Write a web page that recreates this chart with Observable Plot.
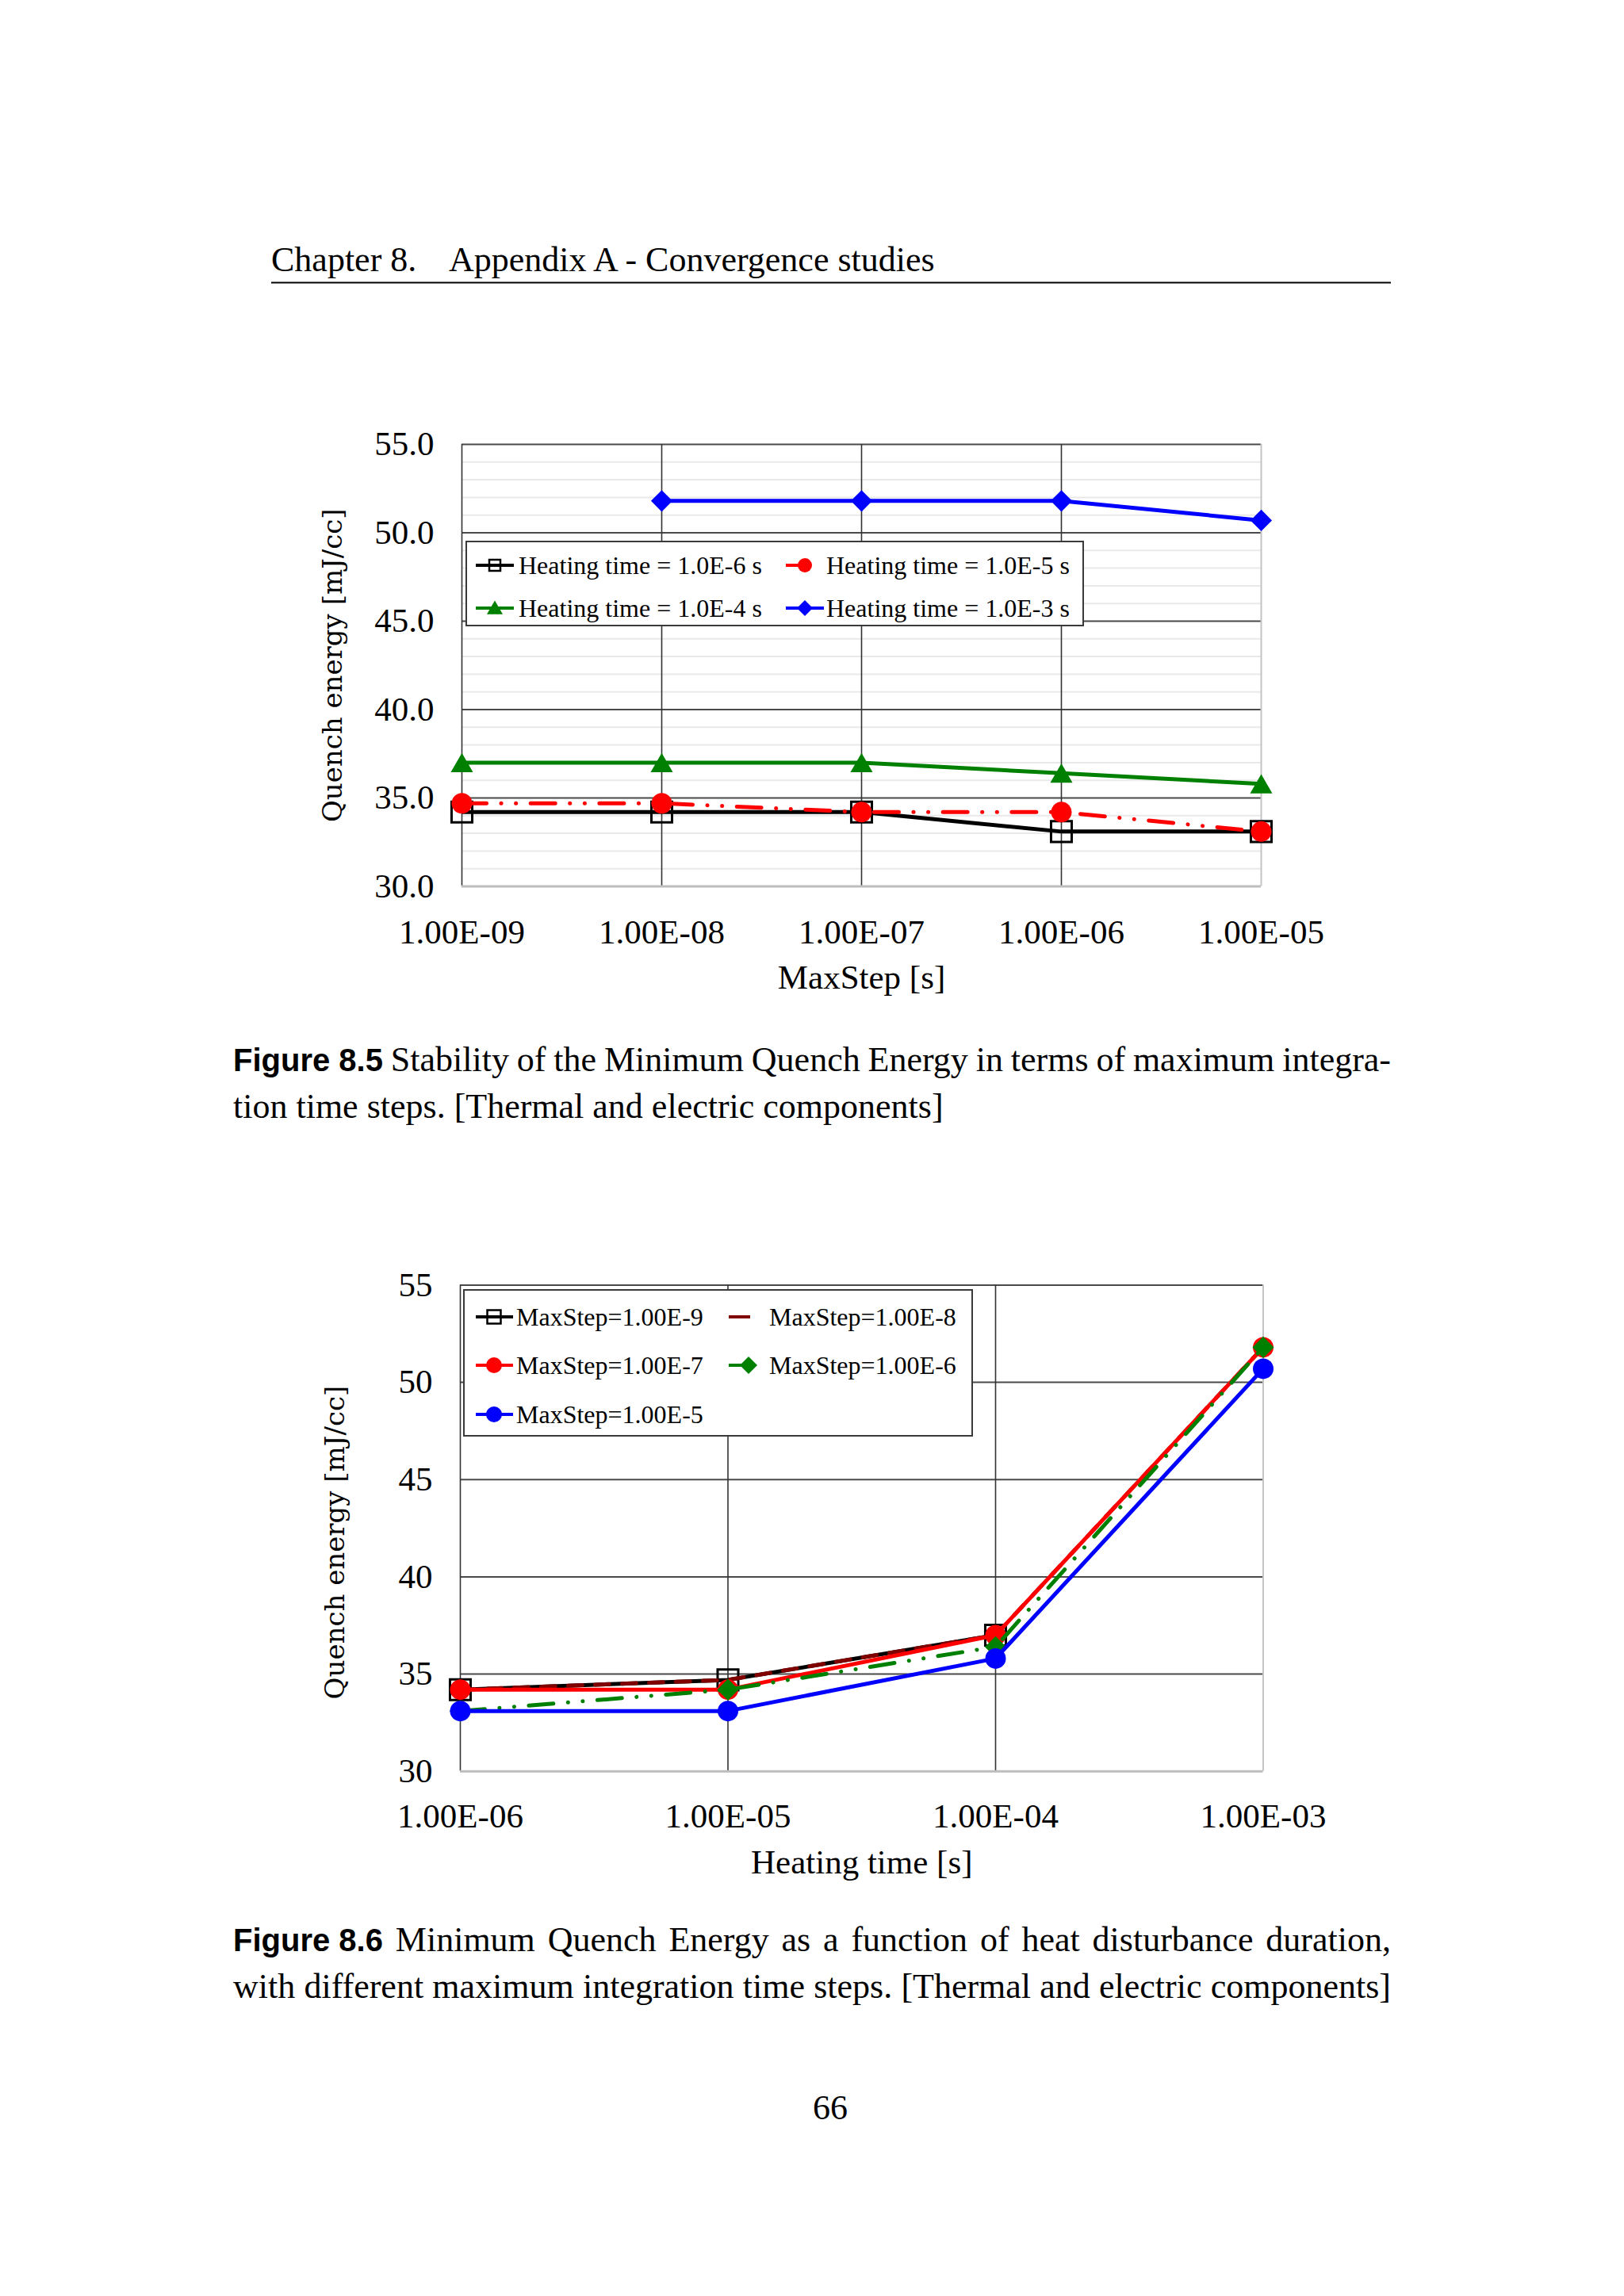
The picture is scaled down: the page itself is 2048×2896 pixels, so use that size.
<!DOCTYPE html>
<html><head><meta charset="utf-8">
<script src="https://cdn.jsdelivr.net/npm/d3@7"></script>
<script src="https://cdn.jsdelivr.net/npm/@observablehq/plot@0.6"></script>
<style>
html,body{margin:0;padding:0;background:#fff;}
body{width:2048px;height:2896px;position:relative;overflow:hidden;font-family:"Liberation Serif","Times New Roman",serif;color:#000;}
.cap{position:absolute;left:294px;width:1460px;font-size:44px;line-height:44px;white-space:nowrap;}
.just{display:flex;justify-content:space-between;align-items:baseline;}
.fig{font-family:"Liberation Sans",Arial,sans-serif;font-weight:bold;font-size:40px;}
</style></head>
<body>
<script>
// ---------------- data ----------------
const maxStepLabels = ["1.00E-09", "1.00E-08", "1.00E-07", "1.00E-06", "1.00E-05"];
const heatingLabels = ["1.00E-06", "1.00E-05", "1.00E-04", "1.00E-03"];

// Figure 8.5 : quench energy [mJ/cc] vs MaxStep, one series per heating time
const heat1e6 = [34.2, 34.2, 34.2, 33.1, 33.1];
const heat1e5 = [34.7, 34.7, 34.2, 34.2, 33.1];
const heat1e4 = [37.0, 37.0, 37.0, 36.4, 35.8];
const heat1e3 = [null, 51.8, 51.8, 51.8, 50.7];

// Figure 8.6 : quench energy [mJ/cc] vs heating time, one series per MaxStep
const ms1e9 = [34.2, 34.7, 37.0, null];
const ms1e8 = [34.2, 34.7, 37.0, 51.8];
const ms1e7 = [34.2, 34.2, 37.0, 51.8];
const ms1e6 = [33.1, 34.2, 36.4, 51.8];
const ms1e5 = [33.1, 33.1, 35.8, 50.7];

const yTicksTop = [30, 35, 40, 45, 50, 55];
const yMinorTop = [31, 32, 33, 34, 36, 37, 38, 39, 41, 42, 43, 44, 46, 47, 48, 49, 51, 52, 53, 54];
const yTicksBottom = [30, 35, 40, 45, 50, 55];

const legendTopLabels = ["Heating time = 1.0E-6 s", "Heating time = 1.0E-5 s", "Heating time = 1.0E-4 s", "Heating time = 1.0E-3 s"];
const legendBottomLabels = ["MaxStep=1.00E-9", "MaxStep=1.00E-8", "MaxStep=1.00E-7", "MaxStep=1.00E-6", "MaxStep=1.00E-5"];

const headerText = ["Chapter 8.", "Appendix A - Convergence studies"];
const caption1 = ["Stability of the Minimum Quench Energy in terms of maximum integra-", "tion time steps. [Thermal and electric components]"];
const caption2 = ["Minimum Quench Energy as a function of heat disturbance duration,", "with different maximum integration time steps. [Thermal and electric components]"];

// ---------------- helpers ----------------
const DDOT = "31,18.5,0.1,18.5,0.1,18.5";
const GREEN = "#008000", RED = "#ff0000", BLUE = "#0000ff", DRED = "#800000";

function series(labels, vals, o) {
  const data = labels.map((x, i) => ({x, y: vals[i]}));
  const m = [Plot.line(data, {x: "x", y: "y", stroke: o.stroke, strokeWidth: 5,
    strokeDasharray: o.dash || null, strokeLinecap: o.dash ? "round" : "butt", strokeLinejoin: "round"})];
  if (o.symbol) m.push(Plot.dot(data.filter(d => d.y != null), {x: "x", y: "y", symbol: o.symbol, r: o.r,
    fill: o.fill, stroke: o.dotStroke || "none", strokeWidth: o.dotStrokeWidth || 0, dy: o.dy || 0}));
  return m;
}

function makeChart(cfg) {
  const wrap = document.createElement("div");
  wrap.style.cssText = `position:absolute;left:0px;top:${cfg.top}px;`;
  const svg = Plot.plot({
    width: 2048, height: cfg.height,
    marginLeft: cfg.left, marginRight: 2048 - cfg.right,
    marginTop: cfg.frameTop - cfg.top, marginBottom: cfg.top + cfg.height - cfg.frameBottom,
    x: {type: "point", domain: cfg.xDomain, padding: 0, round: false, label: null},
    y: {domain: [30, 55], label: null},
    style: {fontFamily: "'Liberation Serif', serif", fontSize: "43px", color: "#000", background: "transparent", overflow: "visible"},
    marks: [
      ...(cfg.minor ? [Plot.ruleY(cfg.minor, {stroke: "#e9e9e9", strokeWidth: 2})] : []),
      Plot.ruleY(cfg.yTicks.filter(d => d > 30), {stroke: "#4a4a4a", strokeWidth: 2}),
      Plot.ruleX(cfg.xDomain.slice(0, -1), {stroke: "#333", strokeWidth: 1.6}),
      Plot.ruleX(cfg.xDomain.slice(-1), {stroke: "#c4c4c4", strokeWidth: 2}),
      Plot.ruleY([30], {stroke: "#bdbdbd", strokeWidth: 3}),
      Plot.axisX({tickSize: 0, tickPadding: cfg.padX, fontSize: 43, label: null}),
      Plot.axisY({ticks: cfg.yTicks, tickFormat: cfg.yFmt, tickSize: 0, tickPadding: cfg.padY, fontSize: 43, label: null}),
      Plot.text([cfg.xTitle], {text: d => d, frameAnchor: "bottom", dy: 115, lineAnchor: "middle", fontSize: 43}),
      Plot.text([cfg.yTitle], {text: d => d, frameAnchor: "left", textAnchor: "middle", rotate: -90, dx: cfg.yTitleDx, dy: cfg.yTitleDy,
        lineAnchor: "middle", fontSize: 34, fontFamily: "'DejaVu Serif', serif"}),
      ...cfg.series.flat()
    ]
  });
  wrap.appendChild(svg);
  document.body.appendChild(wrap);
}

// ---------------- Figure 8.5 ----------------
makeChart({
  top: 470, height: 830, left: 582, right: 1590, frameTop: 560, frameBottom: 1117.5,
  xDomain: maxStepLabels, yTicks: yTicksTop, yFmt: d => d.toFixed(1), minor: yMinorTop,
  padX: 41, padY: 35, xTitle: "MaxStep [s]", yTitle: "Quench energy [mJ/cc]", yTitleDx: -162, yTitleDy: 0,
  series: [
    series(maxStepLabels, heat1e6, {stroke: "#000", symbol: "square", r: 14.7, fill: "none", dotStroke: "#000", dotStrokeWidth: 3}),
    series(maxStepLabels, heat1e5, {stroke: RED, dash: DDOT, symbol: "circle", r: 13, fill: RED}),
    series(maxStepLabels, heat1e4, {stroke: GREEN, symbol: "triangle", r: 10.4, fill: GREEN, dy: 4}),
    series(maxStepLabels, heat1e3, {stroke: BLUE, symbol: "diamond2", r: 12.2, fill: BLUE})
  ]
});

// ---------------- Figure 8.6 ----------------
makeChart({
  top: 1540, height: 860, left: 580, right: 1592.5, frameTop: 1620.4, frameBottom: 2233.7,
  xDomain: heatingLabels, yTicks: yTicksBottom, yFmt: d => String(d), minor: null,
  padX: 40, padY: 35, xTitle: "Heating time [s]", yTitle: "Quench energy [mJ/cc]", yTitleDx: -157, yTitleDy: 18,
  series: [
    series(heatingLabels, ms1e9, {stroke: "#000", symbol: "square", r: 14.7, fill: "none", dotStroke: "#000", dotStrokeWidth: 3}),
    series(heatingLabels, ms1e8, {stroke: DRED, dash: "18,16"}),
    series(heatingLabels, ms1e7, {stroke: RED, symbol: "circle", r: 13, fill: RED}),
    series(heatingLabels, ms1e6, {stroke: GREEN, dash: DDOT, symbol: "diamond2", r: 12.2, fill: GREEN}),
    series(heatingLabels, ms1e5, {stroke: BLUE, symbol: "circle", r: 13, fill: BLUE})
  ]
});

// ---------------- overlay: header, legends, page number ----------------
const ov = d3.select("body").append("svg")
  .attr("width", 2048).attr("height", 2896)
  .style("position", "absolute").style("left", "0px").style("top", "0px");

ov.append("text").attr("x", 342).attr("y", 342).attr("font-family", "Liberation Serif").attr("font-size", 44).text(headerText[0]);
ov.append("text").attr("x", 566).attr("y", 342).attr("font-family", "Liberation Serif").attr("font-size", 44).text(headerText[1]);
ov.append("line").attr("x1", 342).attr("x2", 1754).attr("y1", 356.5).attr("y2", 356.5).attr("stroke", "#000").attr("stroke-width", 2);
ov.append("text").attr("x", 1047).attr("y", 2673).attr("text-anchor", "middle").attr("font-family", "Liberation Serif").attr("font-size", 44).text("66");

function box(x, y, w, h) {
  ov.append("rect").attr("x", x).attr("y", y).attr("width", w).attr("height", h)
    .attr("fill", "#fff").attr("stroke", "#3a3a3a").attr("stroke-width", 2);
}
function entry(e) {
  if (e.lx1 > e.lx0) ov.append("line").attr("x1", e.lx0).attr("x2", e.lx1).attr("y1", e.y).attr("y2", e.y)
    .attr("stroke", e.color).attr("stroke-width", 4);
  if (e.sym) ov.append("path").attr("d", d3.symbol(e.sym, e.size)()).attr("transform", `translate(${e.sx},${e.y + (e.sdy || 0)})`)
    .attr("fill", e.fill).attr("stroke", e.stroke || "none").attr("stroke-width", e.sw || 0);
  ov.append("text").attr("x", e.tx).attr("y", e.y).attr("dy", "0.33em").attr("font-family", "Liberation Serif")
    .attr("font-size", 32).text(e.label);
}

// legend of Figure 8.5
box(588, 683, 778, 106);
entry({lx0: 600, lx1: 648, sx: 624, y: 713, color: "#000", sym: d3.symbolSquare, size: 196, fill: "none", stroke: "#000", sw: 2.5, tx: 654, label: legendTopLabels[0]});
entry({lx0: 991, lx1: 1008, sx: 1015, y: 713, color: RED, sym: d3.symbolCircle, size: 254, fill: RED, tx: 1042, label: legendTopLabels[1]});
entry({lx0: 600, lx1: 648, sx: 624, y: 767, color: GREEN, sym: d3.symbolTriangle, size: 173, sdy: 2, fill: GREEN, tx: 654, label: legendTopLabels[2]});
entry({lx0: 991, lx1: 1039, sx: 1015, y: 767, color: BLUE, sym: d3.symbolDiamond2, size: 255, fill: BLUE, tx: 1042, label: legendTopLabels[3]});

// legend of Figure 8.6
box(585, 1627, 641, 184);
entry({lx0: 600, lx1: 647, sx: 623, y: 1661, color: "#000", sym: d3.symbolSquare, size: 289, fill: "none", stroke: "#000", sw: 2.5, tx: 651, label: legendBottomLabels[0]});
entry({lx0: 919, lx1: 946, y: 1661, color: DRED, tx: 970, label: legendBottomLabels[1]});
entry({lx0: 600, lx1: 647, sx: 623, y: 1722, color: RED, sym: d3.symbolCircle, size: 314, fill: RED, tx: 651, label: legendBottomLabels[2]});
entry({lx0: 919, lx1: 936, sx: 944, y: 1722, color: GREEN, sym: d3.symbolDiamond2, size: 308, fill: GREEN, tx: 970, label: legendBottomLabels[3]});
entry({lx0: 600, lx1: 647, sx: 623, y: 1784, color: BLUE, sym: d3.symbolCircle, size: 314, fill: BLUE, tx: 651, label: legendBottomLabels[4]});

// ---------------- captions ----------------
function capLine(top, words, bold, justify) {
  const d = document.createElement("div");
  d.className = "cap" + (justify ? " just" : "");
  d.style.top = top + "px";
  if (justify) {
    const items = (bold ? [`<span class="fig">${bold}</span>`] : []).concat(words.split(" ").map(w => `<span>${w}</span>`));
    d.innerHTML = items.join("");
  } else {
    d.textContent = words;
  }
  document.body.appendChild(d);
}
capLine(1352 - 37, caption1[0], "Figure 8.5", true);
capLine(1411 - 37, caption1[1], null, false);
capLine(2462 - 37, caption2[0], "Figure 8.6", true);
capLine(2521 - 37, caption2[1], null, true);
</script>
</body></html>
